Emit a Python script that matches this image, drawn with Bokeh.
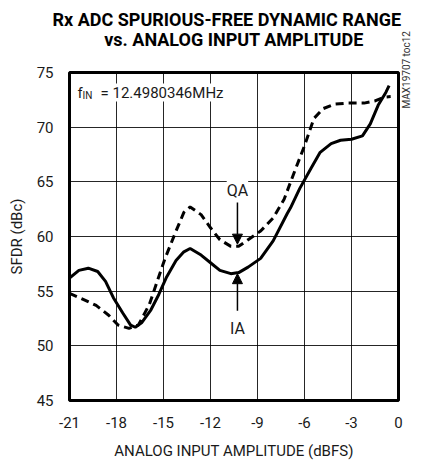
import math
from bokeh.plotting import figure
from bokeh.models import Label, Arrow, NormalHead, FixedTicker, LinearAxis
from bokeh.embed import file_html
from bokeh.resources import INLINE

# ---- data ----
ia_x = [-21.0, -20.4, -19.8, -19.2, -18.7, -18.2, -17.6, -17.1, -16.8, -16.4,
        -15.8, -15.3, -14.8, -14.2, -13.7, -13.3, -12.6, -12.0, -11.4, -10.7,
        -10.2, -9.6, -8.8, -8.0, -7.1, -6.9, -6.3, -5.6, -5.0, -4.3,
        -3.7, -3.0, -2.3, -1.8, -1.3, -0.8, -0.6]
ia_y = [56.2, 56.9, 57.1, 56.8, 55.9, 54.4, 53.0, 51.9, 51.7, 52.1,
        53.3, 54.7, 56.3, 57.8, 58.6, 58.9, 58.3, 57.6, 56.9, 56.6,
        56.7, 57.2, 58.0, 59.6, 62.1, 62.6, 64.4, 66.2, 67.7, 68.5,
        68.8, 68.9, 69.2, 70.3, 72.0, 73.2, 73.8]

qa_x = [-21.0, -20.2, -19.3, -18.5, -17.9, -17.2, -16.6, -15.9, -15.4, -14.9,
        -14.2, -13.7, -13.3, -12.6, -12.0, -11.4, -10.7, -10.2, -9.6, -8.8,
        -8.0, -7.3, -6.7, -6.0, -5.4, -4.8, -4.1, -3.3, -2.2, -1.5,
        -0.9, -0.5]
qa_y = [54.8, 54.3, 53.7, 52.8, 51.9, 51.6, 51.9, 53.8, 55.9, 58.0,
        60.5, 62.2, 62.7, 62.0, 60.8, 59.7, 59.1, 59.1, 59.7, 60.5,
        61.7, 63.4, 65.7, 68.3, 70.8, 71.7, 72.1, 72.2, 72.2, 72.4,
        72.75, 72.8]

x_ticks = [-21, -18, -15, -12, -9, -6, -3, 0]
x_tick_labels = ["-21", "-18", "-15", "-12", "-9", "-6", "-3", "0"]
y_ticks = [45, 50, 55, 60, 65, 70, 75]
y_tick_labels = ["45", "50", "55", "60", "65", "70", "75"]

title_line1 = "Rx ADC SPURIOUS-FREE DYNAMIC RANGE"
title_line2 = "vs. ANALOG INPUT AMPLITUDE"
x_label = "ANALOG INPUT AMPLITUDE (dBFS)"
y_label = "SFDR (dBc)"
cond_text = "= 12.4980346MHz"
note_text = "MAX19707 toc12"
note_pos = 71.7

FONT = "Roboto"

p = figure(width=422, height=464, x_range=(-21, 0), y_range=(45, 75),
           output_backend="svg", toolbar_location=None,
           min_border_left=69, min_border_right=24,
           min_border_top=72, min_border_bottom=64)

xax = p.below[0]
yax = p.left[0]

# title line 2 as the label of an empty top axis, line 1 as the plot title
tax = LinearAxis(ticker=FixedTicker(ticks=[]), axis_label=title_line2,
                 axis_line_color=None, major_tick_line_color=None,
                 minor_tick_line_color=None, major_tick_out=0, major_tick_in=0,
                 major_label_standoff=0, axis_label_standoff=23,
                 major_label_text_font_size="0px",
                 axis_label_text_font=FONT, axis_label_text_font_size="18px",
                 axis_label_text_font_style="bold", axis_label_text_color="black")
p.add_layout(tax, "above")

p.title.text = title_line1
p.title.align = "left"
p.title.text_font = FONT
p.title.text_font_size = "18px"
p.title.text_font_style = "bold"
p.title.text_color = "black"
p.title.standoff = -8
p.title.offset = -17

p.background_fill_color = "white"
p.border_fill_color = "white"
p.outline_line_color = "black"
p.outline_line_width = 3

xax.ticker = FixedTicker(ticks=x_ticks)
yax.ticker = FixedTicker(ticks=y_ticks)
xax.major_label_overrides = {t: s for t, s in zip(x_ticks, x_tick_labels)}
yax.major_label_overrides = {t: s for t, s in zip(y_ticks, y_tick_labels)}
for ax in (xax, yax):
    ax.axis_line_color = None
    ax.major_tick_line_color = None
    ax.minor_tick_line_color = None
    ax.major_tick_out = 0
    ax.major_tick_in = 0
    ax.major_label_text_font = FONT
    ax.major_label_text_font_size = "15px"
    ax.major_label_text_color = "#1a1a1a"
    ax.axis_label_text_font = FONT
    ax.axis_label_text_font_size = "15px"
    ax.axis_label_text_font_style = "normal"
    ax.axis_label_text_color = "#1a1a1a"
xax.major_label_standoff = 16
yax.major_label_standoff = 16
xax.axis_label = x_label
yax.axis_label = y_label
xax.axis_label_standoff = 11
yax.axis_label_standoff = 8

# side note as a right-hand axis label
rax = LinearAxis(ticker=FixedTicker(ticks=[note_pos]),
                 major_label_overrides={note_pos: note_text},
                 major_label_orientation=math.pi / 2,
                 axis_line_color=None, major_tick_line_color=None,
                 minor_tick_line_color=None, major_tick_out=0, major_tick_in=0,
                 major_label_standoff=8, major_label_text_font=FONT,
                 major_label_text_font_size="10px", major_label_text_color="#333333")
p.add_layout(rax, "right")

p.xgrid.grid_line_color = "black"
p.ygrid.grid_line_color = "black"
p.xgrid.grid_line_width = 1
p.ygrid.grid_line_width = 1
p.xgrid.grid_line_alpha = 0.85
p.ygrid.grid_line_alpha = 0.85
p.xgrid.ticker = FixedTicker(ticks=x_ticks)
p.ygrid.ticker = FixedTicker(ticks=y_ticks)

p.line(qa_x, qa_y, line_color="black", line_width=3, line_dash="8 5")
p.line(ia_x, ia_y, line_color="black", line_width=3)

# condition text
for txt, xo, yo, fs in [("f", 8, -20, "15px"), ("IN", 13, -23, "10px"), (cond_text, 31, -20, "15px")]:
    p.add_layout(Label(x=-21, y=75, x_offset=xo, y_offset=yo, text=txt,
                       text_font=FONT, text_font_size=fs, text_color="#1a1a1a",
                       text_baseline="alphabetic", text_align="left",
                       background_fill_color="white"))

# QA / IA annotations
p.add_layout(Label(x=-10.28, y=64.2, text="QA", text_font=FONT, text_font_size="16px",
                   text_align="center", text_baseline="middle", text_color="#1a1a1a",
                   background_fill_color="white"))
p.add_layout(Arrow(end=NormalHead(size=10, fill_color="black", line_color="black"),
                   x_start=-10.28, y_start=63.1, x_end=-10.28, y_end=59.3,
                   line_width=1.5, line_color="black"))
p.add_layout(Label(x=-10.28, y=51.6, text="IA", text_font=FONT, text_font_size="16px",
                   text_align="center", text_baseline="middle", text_color="#1a1a1a",
                   background_fill_color="white"))
p.add_layout(Arrow(end=NormalHead(size=10, fill_color="black", line_color="black"),
                   x_start=-10.28, y_start=53.2, x_end=-10.28, y_end=56.6,
                   line_width=1.5, line_color="black"))

open("out.html", "w").write(file_html(p, INLINE))
